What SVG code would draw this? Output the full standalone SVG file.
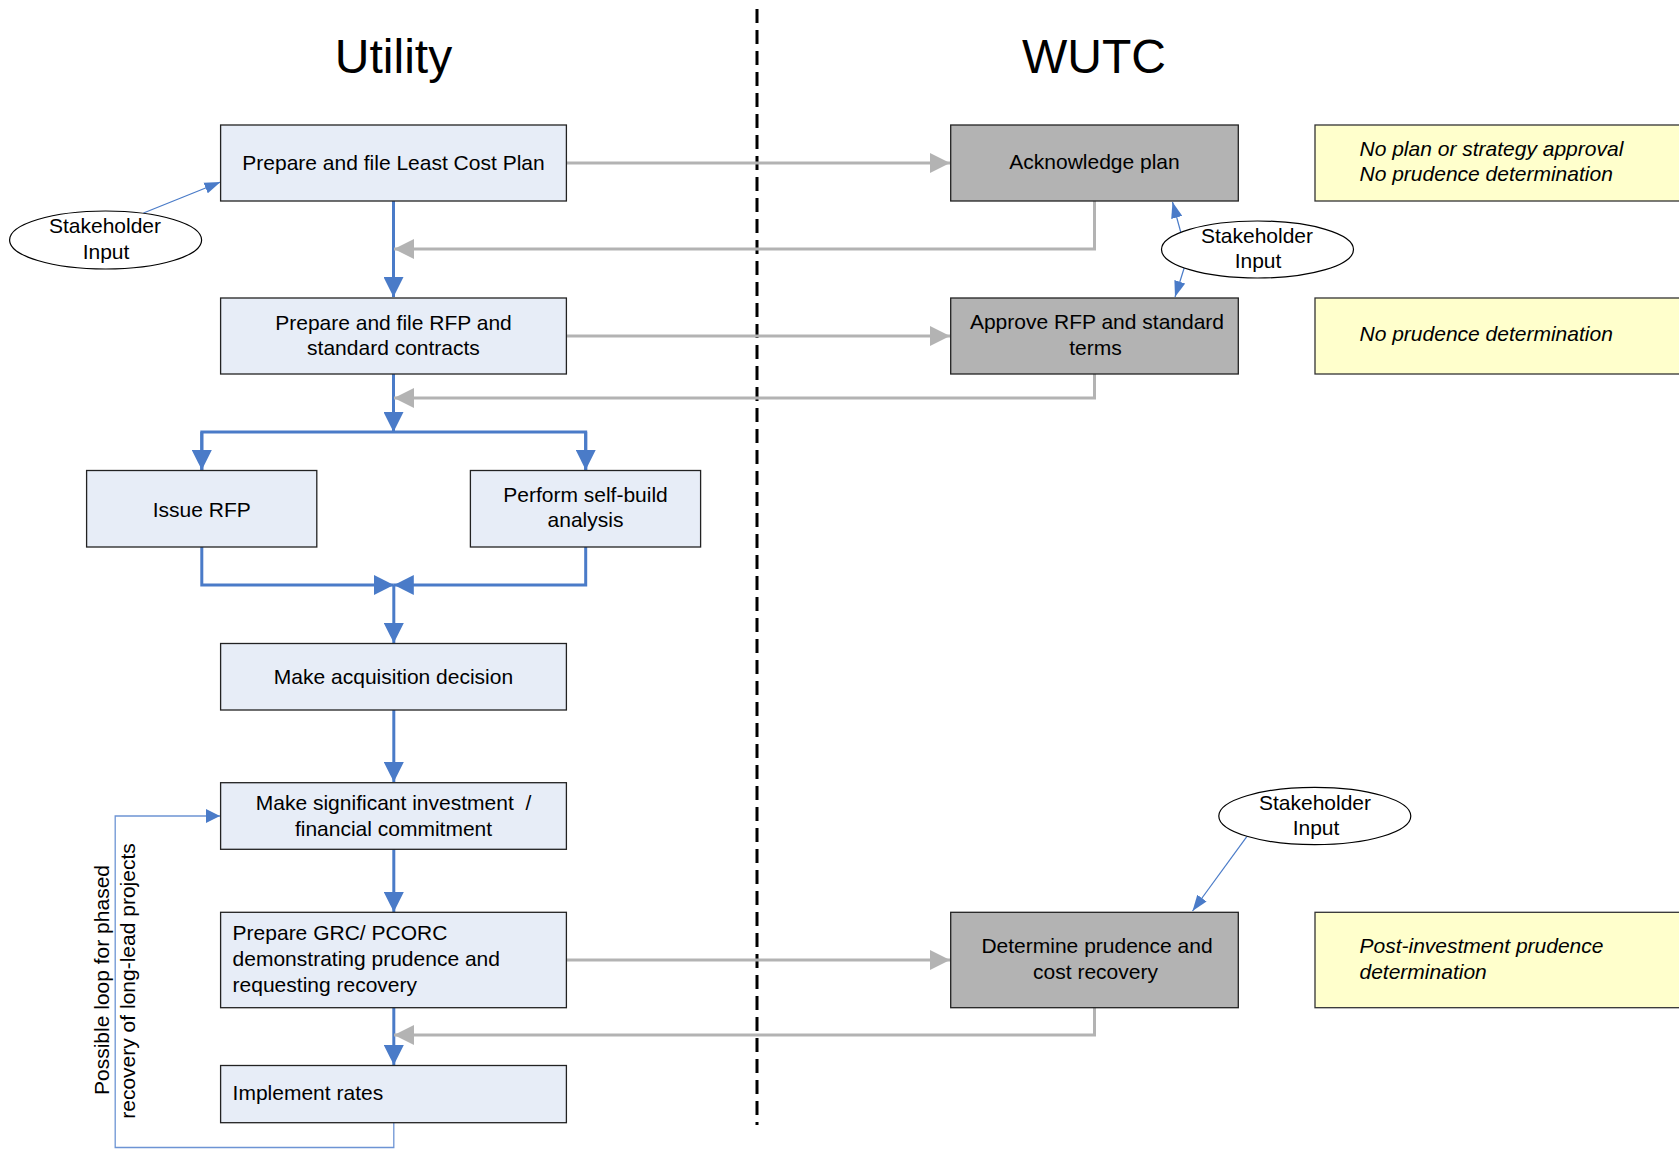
<svg xmlns="http://www.w3.org/2000/svg" width="1679" height="1149" viewBox="0 0 1679 1149">
<style>
text{font-family:"Liberation Sans",Arial,sans-serif;font-size:21px;fill:#000}
.t{text-anchor:middle}
.it{font-style:italic}
.title{font-size:48px;text-anchor:middle}
.ub{fill:#e7edf7;stroke:#222;stroke-width:1.3}
.gb{fill:#b3b3b3;stroke:#222;stroke-width:1.3}
.yb{fill:#ffffcc;stroke:#333;stroke-width:1.3}
.el{fill:#fff;stroke:#000;stroke-width:1.2}
.bl{fill:none;stroke:#4a7bc8;stroke-width:3}
.gr{fill:none;stroke:#b3b3b3;stroke-width:3}
.th{fill:none;stroke:#4a7bc8;stroke-width:1.2}
.lp{fill:none;stroke:#6d94d4;stroke-width:1.3}
</style>
<defs>
<marker id="ab" markerUnits="userSpaceOnUse" markerWidth="20" markerHeight="20" viewBox="0 0 18 18" refX="18" refY="9" orient="auto"><path d="M0,0 L18,9 L0,18 Z" fill="#4a7bc8"/></marker>
<marker id="ag" markerUnits="userSpaceOnUse" markerWidth="20" markerHeight="20" viewBox="0 0 19 19" refX="19" refY="9.5" orient="auto"><path d="M0,0 L19,9.5 L0,19 Z" fill="#b3b3b3"/></marker>
<marker id="as" markerUnits="userSpaceOnUse" markerWidth="16" markerHeight="12" viewBox="0 0 14 10" refX="14" refY="5" orient="auto"><path d="M0,0 L14,5 L0,10 Z" fill="#4a7bc8"/></marker>
<marker id="al" markerUnits="userSpaceOnUse" markerWidth="14" markerHeight="14" viewBox="0 0 12 12" refX="12" refY="6" orient="auto"><path d="M0,0 L12,6 L0,12 Z" fill="#4a7bc8"/></marker>
</defs>

<text class="title" x="393.5" y="73">Utility</text>
<text class="title" x="1094" y="73">WUTC</text>
<line x1="757" y1="9" x2="757" y2="1125" stroke="#000" stroke-width="3" stroke-dasharray="14,7"/>

<g id="connectors">
<line class="bl" x1="393.5" y1="201" x2="393.5" y2="297" marker-end="url(#ab)"/>
<line class="bl" x1="393.5" y1="374" x2="393.5" y2="432" marker-end="url(#ab)"/>
<polyline class="bl" points="201.8,470 201.8,432 585.7,432 585.7,470"/>
<line class="bl" x1="201.8" y1="432" x2="201.8" y2="470" marker-end="url(#ab)"/>
<line class="bl" x1="585.7" y1="432" x2="585.7" y2="470" marker-end="url(#ab)"/>
<polyline class="bl" points="201.8,547 201.8,585 393.8,585" marker-end="url(#ab)"/>
<polyline class="bl" points="585.7,547 585.7,585 393.8,585" marker-end="url(#ab)"/>
<line class="bl" x1="393.8" y1="585" x2="393.8" y2="643" marker-end="url(#ab)"/>
<line class="bl" x1="393.8" y1="710" x2="393.8" y2="782" marker-end="url(#ab)"/>
<line class="bl" x1="393.8" y1="849" x2="393.8" y2="912" marker-end="url(#ab)"/>
<line class="bl" x1="393.8" y1="1008" x2="393.8" y2="1065" marker-end="url(#ab)"/>

<line class="gr" x1="566" y1="163" x2="950" y2="163" marker-end="url(#ag)"/>
<polyline class="gr" points="1094.5,201 1094.5,249 394,249" marker-end="url(#ag)"/>
<line class="gr" x1="566" y1="336" x2="950" y2="336" marker-end="url(#ag)"/>
<polyline class="gr" points="1094.5,374 1094.5,398 394,398" marker-end="url(#ag)"/>
<line class="gr" x1="566" y1="960" x2="950" y2="960" marker-end="url(#ag)"/>
<polyline class="gr" points="1094.5,1008 1094.5,1035 394,1035" marker-end="url(#ag)"/>

<line class="th" x1="143.5" y1="213" x2="220.5" y2="182" marker-end="url(#as)"/>
<line class="th" x1="1180.7" y1="232" x2="1172.5" y2="202" marker-end="url(#as)"/>
<line class="th" x1="1184.2" y1="268" x2="1175" y2="297" marker-end="url(#as)"/>
<line class="th" x1="1246.8" y1="836.7" x2="1192.5" y2="911" marker-end="url(#as)"/>
<polyline class="lp" points="393.8,1122.7 393.8,1147.5 115.2,1147.5 115.2,816 220,816" marker-end="url(#al)"/>
</g>

<g id="n-lcp"><rect class="ub" x="220.6" y="125" width="345.8" height="76"/><text class="t" x="393.5" y="170">Prepare and file Least Cost Plan</text></g>
<g id="n-rfp"><rect class="ub" x="220.6" y="298" width="345.8" height="76"/><text class="t" x="393.5" y="330">Prepare and file RFP and</text><text class="t" x="393.5" y="355">standard contracts</text></g>
<g id="n-issue"><rect class="ub" x="86.6" y="470.5" width="230.2" height="76.5"/><text class="t" x="201.8" y="516.5">Issue RFP</text></g>
<g id="n-self"><rect class="ub" x="470.4" y="470.5" width="230.2" height="76.5"/><text class="t" x="585.5" y="501.5">Perform self-build</text><text class="t" x="585.5" y="527">analysis</text></g>
<g id="n-acq"><rect class="ub" x="220.6" y="643.5" width="345.8" height="66.5"/><text class="t" x="393.5" y="684">Make acquisition decision</text></g>
<g id="n-inv"><rect class="ub" x="220.6" y="782.7" width="345.8" height="66.6"/><text class="t" x="393.5" y="810">Make significant investment&#160; /</text><text class="t" x="393.5" y="835.5">financial commitment</text></g>
<g id="n-grc"><rect class="ub" x="220.6" y="912.3" width="345.8" height="95.4"/><text x="232.6" y="940">Prepare GRC/ PCORC</text><text x="232.6" y="965.7">demonstrating prudence and</text><text x="232.6" y="991.5">requesting recovery</text></g>
<g id="n-rates"><rect class="ub" x="220.6" y="1065.5" width="345.8" height="57.2"/><text x="232.6" y="1100">Implement rates</text></g>

<g id="n-ack"><rect class="gb" x="950.7" y="125" width="287.6" height="76"/><text class="t" x="1094.5" y="169">Acknowledge plan</text></g>
<g id="n-approve"><rect class="gb" x="950.7" y="298" width="287.6" height="76"/><text class="t" x="1097" y="329">Approve RFP and standard</text><text class="t" x="1095.5" y="355">terms</text></g>
<g id="n-det"><rect class="gb" x="950.7" y="912.3" width="287.6" height="95.4"/><text class="t" x="1097" y="953.3">Determine prudence and</text><text class="t" x="1095.5" y="979">cost recovery</text></g>

<g id="n-y1"><rect class="yb" x="1315" y="125" width="380" height="76"/><text class="it" x="1359.5" y="156">No plan or strategy approval</text><text class="it" x="1359.5" y="181">No prudence determination</text></g>
<g id="n-y2"><rect class="yb" x="1315" y="298" width="380" height="76"/><text class="it" x="1359.5" y="341">No prudence determination</text></g>
<g id="n-y3"><rect class="yb" x="1315" y="912.3" width="380" height="95.4"/><text class="it" x="1359.5" y="953.3">Post-investment prudence</text><text class="it" x="1359.5" y="979">determination</text></g>

<g id="n-sh1"><ellipse class="el" cx="105.6" cy="240" rx="96" ry="29"/><text class="t" x="105" y="233">Stakeholder</text><text class="t" x="106" y="259">Input</text></g>
<g id="n-sh2"><ellipse class="el" cx="1257.5" cy="249.5" rx="96" ry="28.5"/><text class="t" x="1257" y="243">Stakeholder</text><text class="t" x="1258" y="268">Input</text></g>
<g id="n-sh3"><ellipse class="el" cx="1314.8" cy="816" rx="96" ry="28.7"/><text class="t" x="1315" y="810">Stakeholder</text><text class="t" x="1316" y="835">Input</text></g>

<g id="loop-label">
<text class="t" transform="translate(108.5,980) rotate(-90)">Possible loop for phased</text>
<text class="t" transform="translate(134.5,981) rotate(-90)">recovery of long-lead projects</text>
</g>
</svg>
